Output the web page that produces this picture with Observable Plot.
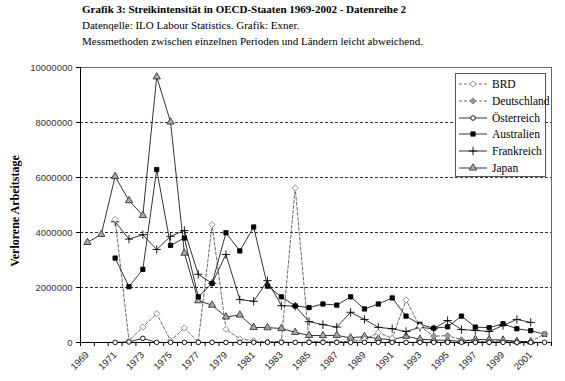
<!DOCTYPE html>
<html>
<head>
<meta charset="utf-8">
<script src="https://cdn.jsdelivr.net/npm/d3@7"></script>
<script src="https://cdn.jsdelivr.net/npm/@observablehq/plot@0.6"></script>
<style>
  html, body { margin: 0; padding: 0; background: #fff; }
  #wrap { position: relative; width: 565px; height: 381px; overflow: hidden; }
  .t { position: absolute; left: 82px; font-family: "Liberation Serif", "Times New Roman", serif; font-size: 11px; color: #000; white-space: nowrap; }
  #legend { position: absolute; left: 455px; top: 73px; width: 91px; height: 104px; border: 1px solid #555; background: #fff; box-sizing: border-box;
            font-family: "Liberation Serif", "Times New Roman", serif; font-size: 11.5px; }
  .li { position: absolute; left: 2px; height: 14px; display: flex; align-items: center; }
  .li svg { margin-right: 4px; }
</style>
</head>
<body>
<div id="wrap">
  <div class="t" style="top:3px;font-weight:bold;">Grafik 3: Streikintensität in OECD-Staaten 1969-2002 - Datenreihe 2</div>
  <div class="t" style="top:19px;">Datenqelle: ILO Labour Statistics. Grafik: Exner.</div>
  <div class="t" style="top:35px;">Messmethoden zwischen einzelnen Perioden und Ländern leicht abweichend.</div>
  <div id="chart" style="position:absolute;left:0;top:0;"></div>
  <div id="legend"></div>
</div>
<script>
const years = d3.range(1969, 2003);
const labelYears = [1969,1971,1973,1975,1977,1979,1981,1983,1985,1987,1989,1991,1993,1995,1997,1999,2001];
const yTicks = [0, 2000000, 4000000, 6000000, 8000000, 10000000];
const seriesNames = ["BRD", "Deutschland", "Österreich", "Australien", "Frankreich", "Japan"];

const brd = [null,null,4480000,70000,560000,1050000,70000,530000,20000,4280000,480000,130000,60000,20000,40000,5620000,40000,30000,30000,40000,100000,360000,150000,1550000,590000,null,null,null,null,null,null,null,null,null];
const deutschland = [null,null,null,null,null,null,null,null,null,null,null,null,null,null,null,null,null,null,null,null,null,null,null,null,590000,230000,250000,100000,50000,20000,80000,10000,30000,310000];
const oesterreich = [null,null,5000,20000,150000,5000,5000,5000,5000,5000,5000,5000,5000,5000,5000,5000,5000,5000,5000,5000,5000,5000,5000,5000,5000,5000,5000,5000,5000,5000,5000,5000,5000,5000];
const australien = [null,null,3070000,2030000,2660000,6290000,3530000,3800000,1660000,2150000,3990000,3330000,4200000,2050000,1660000,1330000,1270000,1400000,1360000,1660000,1220000,1400000,1620000,960000,660000,520000,570000,960000,560000,540000,680000,500000,430000,300000];
const frankreich = [null,null,4390000,3760000,3920000,3380000,3860000,4070000,2480000,2150000,3200000,1560000,1500000,2250000,1340000,1320000,760000,650000,560000,1100000,840000,550000,500000,400000,550000,500000,800000,470000,440000,400000,620000,840000,730000,null];
const japan = [3640000,3930000,6040000,5160000,4620000,9660000,8020000,3250000,1520000,1360000,930000,1000000,550000,540000,510000,370000,260000,250000,260000,170000,220000,140000,100000,230000,120000,90000,80000,40000,110000,100000,90000,40000,30000,null];

const seriesValues = [brd, deutschland, oesterreich, australien, frankreich, japan];
const styles = {
  "BRD":        {stroke:"#444", dash:"3,2", symbol:"diamond2", fill:"#fff", mstroke:"#888", r:2.8},
  "Deutschland":{stroke:"#444", dash:"3,2", symbol:"diamond2", fill:"#999", mstroke:"#777", r:2.8},
  "Österreich": {stroke:"#000", dash:null,  symbol:"circle",   fill:"#fff", mstroke:"#000", r:2.3},
  "Australien": {stroke:"#000", dash:null,  symbol:"square",   fill:"#000", mstroke:"#000", r:2.4},
  "Frankreich": {stroke:"#000", dash:null,  symbol:"plus",     fill:"none", mstroke:"#000", r:2.8},
  "Japan":      {stroke:"#000", dash:null,  symbol:"triangle", fill:"#aaa", mstroke:"#333", r:2.7}
};

const rows = [];
seriesNames.forEach((name, k) => {
  seriesValues[k].forEach((v, i) => { rows.push({series: name, year: years[i], value: v}); });
});

const marks = [
  Plot.ruleY([2000000, 4000000, 6000000, 8000000], {stroke: "#000", strokeWidth: 0.8, strokeDasharray: "3,2"}),
  Plot.ruleY([10000000], {stroke: "#666", strokeWidth: 1}),
  Plot.ruleX([2002.5], {y1: 0, y2: 10000000, stroke: "#666", strokeWidth: 1}),
  Plot.ruleX([1968.5], {y1: 0, y2: 10000000, stroke: "#000", strokeWidth: 1}),
  Plot.ruleY([0], {stroke: "#000", strokeWidth: 1}),
  Plot.axisY({ticks: yTicks, tickSize: 4, tickPadding: 4, tickFormat: d => String(d), label: null,
              fontFamily: "Liberation Sans", fontSize: 9.5, fill: "#333"}),
  Plot.axisX({ticks: d3.range(1968.5, 2003, 1), tickSize: 4, tickFormat: () => "", label: null}),
  Plot.text(labelYears, {x: d => d, frameAnchor: "bottom", dx: 2, dy: 13, rotate: -45, textAnchor: "end",
              text: d => String(d), fontFamily: "Liberation Sans", fontSize: 9.5, fill: "#222"}),
  Plot.text(["Verlorene Arbeitstage"], {frameAnchor: "left", dx: -65, dy: 6, rotate: -90, textAnchor: "middle",
              fontFamily: "Liberation Serif", fontWeight: "bold", fontSize: 12, fill: "#000"})
];

seriesNames.forEach(name => {
  const s = styles[name];
  const data = rows.filter(r => r.series === name);
  marks.push(Plot.line(data, {x: "year", y: "value", stroke: s.stroke, strokeWidth: 0.8,
    strokeDasharray: s.dash, defined: d => d.value != null, curve: "linear"}));
});
["Japan","Frankreich","Australien","Deutschland","BRD","Österreich"].forEach(name => {
  const s = styles[name];
  const data = rows.filter(r => r.series === name && r.value != null);
  marks.push(Plot.dot(data, {x: "year", y: "value", symbol: () => s.symbol, r: s.r,
    fill: s.fill, stroke: s.mstroke, strokeWidth: 0.9}));
});

const chart = Plot.plot({
  width: 565, height: 381,
  marginLeft: 80, marginRight: 14, marginTop: 67, marginBottom: 39,
  x: {domain: [1968.5, 2002.5], axis: null},
  y: {domain: [0, 10000000], axis: null},
  symbol: {type: "identity"},
  style: {background: "transparent", overflow: "visible"},
  marks
});
document.getElementById("chart").appendChild(chart);

// Legend
const leg = document.getElementById("legend");
seriesNames.forEach((name, i) => {
  const s = styles[name];
  const div = document.createElement("div");
  div.className = "li";
  div.style.top = (3 + i * 16.8) + "px";
  const sym = d3.symbol().type({
    diamond2: d3.symbolDiamond2, circle: d3.symbolCircle, square: d3.symbolSquare,
    plus: d3.symbolPlus, triangle: d3.symbolTriangle
  }[s.symbol]).size(Math.PI * s.r * s.r)();
  div.innerHTML = `<svg width="30" height="10"><line x1="1" x2="29" y1="5" y2="5" stroke="${s.stroke}" stroke-width="0.8" ${s.dash ? `stroke-dasharray="${s.dash}"` : ""}/>` +
    `<path transform="translate(15,5)" d="${sym}" fill="${s.fill}" stroke="${s.mstroke}" stroke-width="0.9"/></svg><span>${name}</span>`;
  leg.appendChild(div);
});
</script>
</body>
</html>
